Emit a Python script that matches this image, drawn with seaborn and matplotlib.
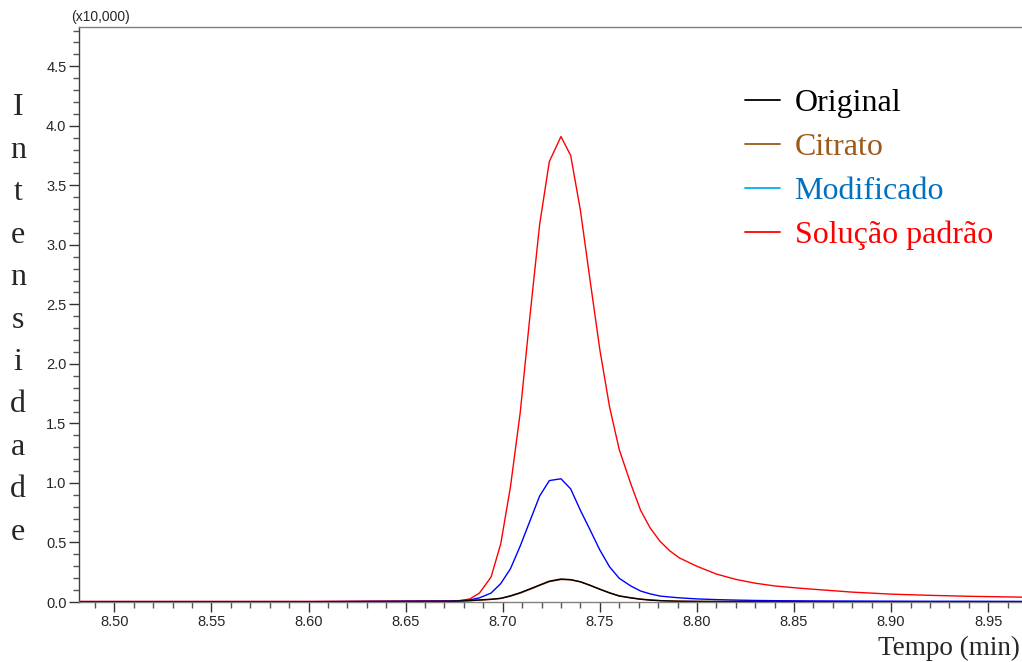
import numpy as np
import pandas as pd
import matplotlib
matplotlib.use('Agg')
import matplotlib.pyplot as plt
import seaborn as sns
from matplotlib.lines import Line2D
from matplotlib.ticker import MultipleLocator, FormatStrFormatter

# Chromatogram values (intensity in units of 10,000)
tempo = [8.480, 8.600, 8.673, 8.678, 8.683, 8.688, 8.694, 8.699, 8.704, 8.709,
         8.714, 8.719, 8.724, 8.730, 8.735, 8.740, 8.745, 8.750, 8.755, 8.760,
         8.766, 8.771, 8.776, 8.781, 8.786, 8.791, 8.800, 8.810, 8.820, 8.830,
         8.840, 8.850, 8.860, 8.880, 8.900, 8.920, 8.940, 8.970]

original = [0.002, 0.002, 0.005, 0.008, 0.012, 0.017, 0.023, 0.031, 0.052, 0.078,
            0.110, 0.143, 0.175, 0.193, 0.188, 0.170, 0.140, 0.107, 0.076, 0.050,
            0.034, 0.023, 0.016, 0.011, 0.008, 0.006, 0.005, 0.004, 0.004, 0.003,
            0.003, 0.003, 0.003, 0.002, 0.002, 0.002, 0.002, 0.002]

citrato = [0.002, 0.002, 0.004, 0.007, 0.011, 0.016, 0.022, 0.030, 0.049, 0.075,
           0.106, 0.139, 0.171, 0.189, 0.186, 0.169, 0.140, 0.108, 0.078, 0.052,
           0.036, 0.025, 0.017, 0.012, 0.009, 0.007, 0.005, 0.004, 0.004, 0.003,
           0.003, 0.003, 0.003, 0.002, 0.002, 0.002, 0.002, 0.002]

modificado = [0.003, 0.003, 0.008, 0.011, 0.017, 0.035, 0.075, 0.155, 0.280, 0.470,
              0.680, 0.890, 1.020, 1.035, 0.950, 0.770, 0.605, 0.437, 0.296, 0.199,
              0.134, 0.092, 0.068, 0.050, 0.042, 0.035, 0.026, 0.020, 0.016, 0.013,
              0.011, 0.010, 0.009, 0.008, 0.007, 0.006, 0.006, 0.005]

solucao = [0.005, 0.005, 0.010, 0.012, 0.025, 0.075, 0.210, 0.490, 0.970, 1.590,
           2.400, 3.170, 3.700, 3.910, 3.750, 3.290, 2.700, 2.120, 1.640, 1.280,
           0.990, 0.770, 0.620, 0.510, 0.430, 0.370, 0.300, 0.235, 0.190, 0.158,
           0.135, 0.120, 0.107, 0.083, 0.066, 0.056, 0.048, 0.040]

series_names = ['Original', 'Citrato', 'Modificado', 'Solução padrão']
line_colors = ['#000000', '#993300', '#0000FF', '#FF0000']
legend_line_colors = ['#000000', '#9C5A1A', '#00B0F0', '#FF0000']
text_colors = ['#000000', '#9C5A1A', '#0070C0', '#FF0000']

df = pd.DataFrame({'Tempo': tempo, 'Original': original, 'Citrato': citrato,
                   'Modificado': modificado, 'Solução padrão': solucao})
long_df = df.melt(id_vars='Tempo', var_name='Amostra', value_name='Intensidade')

sns.set_style('ticks')
plt.rcParams['font.family'] = ['Liberation Sans', 'DejaVu Sans']

W, H = 1022, 662
fig = plt.figure(figsize=(W / 100, H / 100), dpi=100)
ax = fig.add_axes([79 / W, 1 - 602 / H, 1 - 79 / W, (602 - 27) / H])

# draw the big peaks first so the small ones sit on top
draw_order = ['Solução padrão', 'Modificado', 'Citrato', 'Original']
sns.lineplot(data=long_df, x='Tempo', y='Intensidade', hue='Amostra',
             hue_order=draw_order, palette=dict(zip(series_names, line_colors)),
             estimator=None, sort=False, linewidth=1.0, ax=ax, legend=False)

ax.set_xlim(8.4818, 8.9674)
ax.set_ylim(0, 4.83)
ax.set_xlabel('')
ax.set_ylabel('')

ax.xaxis.set_major_locator(MultipleLocator(0.05))
ax.xaxis.set_minor_locator(MultipleLocator(0.01))
ax.yaxis.set_major_locator(MultipleLocator(0.5))
ax.yaxis.set_minor_locator(MultipleLocator(0.1))
ax.xaxis.set_major_formatter(FormatStrFormatter('%.2f'))
ax.yaxis.set_major_formatter(FormatStrFormatter('%.1f'))

ax.tick_params(which='major', direction='out', length=7, width=1,
               color='#333333', labelsize=10.5, pad=2)
ax.tick_params(which='minor', direction='out', length=4, width=1, color='#555555')

ax.spines['right'].set_visible(False)
ax.spines['top'].set_color('#808080')
ax.spines['left'].set_color('#404040')
ax.spines['bottom'].set_color('#808080')
for s in ax.spines.values():
    s.set_linewidth(1.0)

handles = [Line2D([], [], color=c, lw=1.3) for c in legend_line_colors]
ax.legend(handles, series_names, loc='upper left',
          bbox_to_anchor=(745 / W, 1 - 89 / H), bbox_transform=fig.transFigure,
          frameon=False, prop={'family': 'Liberation Serif', 'size': 23},
          handlelength=1.1, handletextpad=0.45, labelspacing=0.45,
          borderpad=0, borderaxespad=0, labelcolor=text_colors)

fig.text(100 / W, 1 - 17 / H, '(x10,000)', ha='center', va='center', size=10)
fig.text(1020 / W, 1 - 648 / H, 'Tempo (min)', ha='right', va='center',
         family='Liberation Serif', size=19.5)
fig.text(18 / W, 1 - 320 / H, '\n'.join('Intensidade'), ha='center', va='center',
         family='Liberation Serif', size=23, linespacing=1.61)

fig.savefig('out.png', dpi=100)
